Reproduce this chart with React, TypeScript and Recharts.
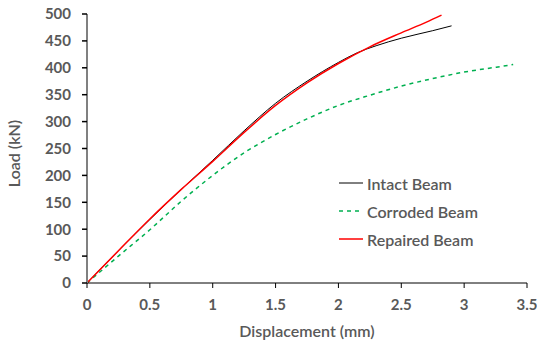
import { LineChart, Line, XAxis, YAxis } from 'recharts'

const xTicks = [0, 0.5, 1, 1.5, 2, 2.5, 3, 3.5]
const yTicks = [0, 50, 100, 150, 200, 250, 300, 350, 400, 450, 500]

const intactDisp = [0, 0.25, 0.5, 0.75, 1.0, 1.25, 1.5, 1.75, 2.0, 2.15, 2.3, 2.5, 2.75, 2.9]
const intactLoad = [0, 60, 118, 174, 228, 283, 334, 375, 410, 428, 441, 455, 469, 478]

const corrodedDisp = [0, 0.25, 0.5, 0.75, 1.0, 1.25, 1.5, 1.75, 2.0, 2.25, 2.5, 2.75, 3.0, 3.25, 3.39]
const corrodedLoad = [0, 50, 99, 152, 200, 242, 276, 305, 330, 349, 366, 380, 392, 401, 406]

const repairedDisp = [0, 0.25, 0.5, 0.75, 1.0, 1.25, 1.5, 1.75, 2.0, 2.25, 2.5, 2.7, 2.82]
const repairedLoad = [0, 60, 119, 174, 226, 280, 330, 372, 408, 439, 465, 485, 498]

const series = [
  { name: 'Intact Beam', disp: intactDisp, load: intactLoad, color: '#000000', width: 1, dash: undefined },
  { name: 'Corroded Beam', disp: corrodedDisp, load: corrodedLoad, color: '#00B050', width: 1.5, dash: '4 4' },
  { name: 'Repaired Beam', disp: repairedDisp, load: repairedLoad, color: '#FF0000', width: 1.5, dash: undefined },
]

const toPoints = (d: number[], l: number[]) => d.map((x, i) => ({ x, y: l[i] }))

const FONT = 'Lato, "Open Sans", sans-serif'
const GREY = '#595959'

function LegendBox() {
  return (
    <div style={{ position: 'absolute', left: 339, top: 169, fontFamily: FONT, fontSize: 16, color: GREY, fontWeight: 600 }}>
      {series.map(s => (
        <div key={s.name} style={{ display: 'flex', alignItems: 'center', height: 28 }}>
          <svg width={28} height={10}>
            <line x1={0} y1={5} x2={24} y2={5} stroke={s.color} strokeWidth={s.width} strokeDasharray={s.dash} />
          </svg>
          <span>{s.name}</span>
        </div>
      ))}
    </div>
  )
}

export default function App() {
  // corroded first, repaired drawn on top
  const drawOrder = [series[1], series[0], series[2]]
  return (
    <div style={{ position: 'absolute', left: 0, top: 0, width: 537, height: 345, background: '#fff' }}>
      <LineChart width={537} height={345} margin={{ top: 14, right: 10, left: 0, bottom: 0 }}>
        <XAxis
          type="number"
          dataKey="x"
          domain={[0, 3.5]}
          ticks={xTicks}
          interval={0}
          allowDuplicatedCategory={false}
          stroke="#000"
          tickSize={5}
          tickMargin={11}
          height={62}
          tick={{ fill: GREY, fontSize: 15, fontWeight: 700, fontFamily: FONT }}
          tickLine={{ stroke: '#000' }}
          label={{ value: 'Displacement (mm)', position: 'insideBottom', offset: 8, fill: GREY, fontSize: 16, fontWeight: 600, fontFamily: FONT }}
        />
        <YAxis
          type="number"
          domain={[0, 500]}
          ticks={yTicks}
          interval={0}
          width={87}
          stroke="#808080"
          strokeWidth={2}
          tickSize={5}
          tickMargin={11}
          tick={{ fill: GREY, fontSize: 15, fontWeight: 700, fontFamily: FONT }}
          tickLine={{ stroke: '#000', strokeWidth: 1.5 }}
          label={{ value: 'Load (kN)', angle: -90, position: 'insideLeft', offset: 14, dy: 5, fill: GREY, fontSize: 16, fontWeight: 600, fontFamily: FONT, style: { textAnchor: 'middle' } }}
        />
        {drawOrder.map(s => (
          <Line
            key={s.name}
            data={toPoints(s.disp, s.load)}
            dataKey="y"
            name={s.name}
            type="monotone"
            stroke={s.color}
            strokeWidth={s.width}
            strokeDasharray={s.dash}
            dot={false}
            activeDot={false}
            isAnimationActive={false}
          />
        ))}
      </LineChart>
      <LegendBox />
    </div>
  )
}
